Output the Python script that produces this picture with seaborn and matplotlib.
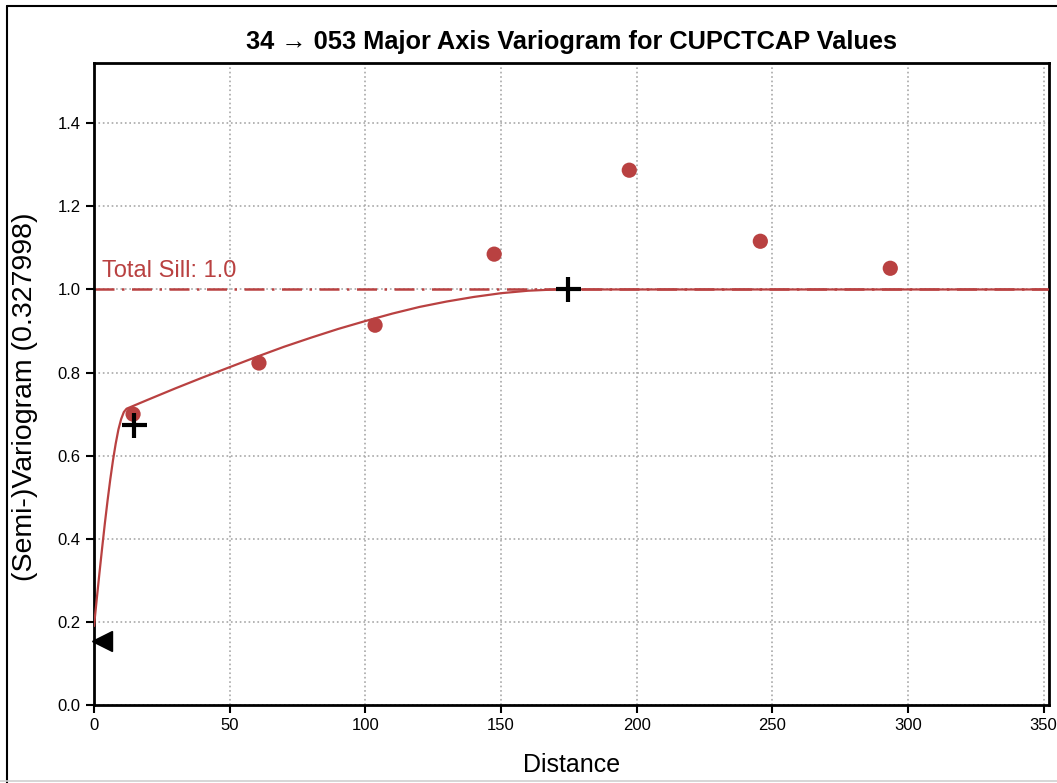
import matplotlib
matplotlib.use("Agg")
import matplotlib.pyplot as plt
from matplotlib.lines import Line2D
import seaborn as sns

# experimental variogram points
lag_dist = [14.4, 60.8, 103.6, 147.5, 197.3, 245.6, 293.5]
lag_gamma = [0.700, 0.823, 0.914, 1.085, 1.287, 1.116, 1.051]

# fitted model curve
model_dist = [0, 1, 2, 3, 4, 5, 6, 7, 8, 9, 10, 11, 12,
              20, 30, 40, 50, 60, 70, 80, 90, 100, 110, 120, 130, 140,
              150, 160, 170, 175, 352]
model_gamma = [0.190, 0.254, 0.317, 0.378, 0.437, 0.492, 0.543, 0.589, 0.629,
               0.663, 0.688, 0.705, 0.713,
               0.735, 0.762, 0.788, 0.813, 0.838, 0.862, 0.884, 0.905, 0.924,
               0.942, 0.958, 0.971, 0.982, 0.991, 0.997, 1.000, 1.000, 1.000]

# structure range markers and nugget marker
range_dist = [14.7, 174.8]
range_gamma = [0.674, 1.0]
nugget_dist = [3.0]
nugget_gamma = [0.155]

total_sill = 1.0
title = "34 \u2192 053 Major Axis Variogram for CUPCTCAP Values"
red = "#b94141"

sns.set_style("white")
plt.rcParams["font.family"] = ["Liberation Sans", "DejaVu Sans"]
plt.rcParams["text.color"] = "black"
plt.rcParams["axes.labelcolor"] = "black"
plt.rcParams["xtick.color"] = "black"
plt.rcParams["ytick.color"] = "black"

fig = plt.figure(figsize=(10.57, 7.83), dpi=100)
ax = fig.add_axes([94 / 1057, 1 - 705 / 783, (1049 - 94) / 1057, (705 - 63) / 783])

ax.grid(True, linestyle=":", color="#a8a8a8", linewidth=1.2)
ax.set_axisbelow(True)

ax.axhline(total_sill, color=red, linewidth=1.8, linestyle=(0, (8, 3, 1, 3)), zorder=2)
sns.lineplot(x=model_dist, y=model_gamma, estimator=None, color=red, linewidth=1.6, ax=ax, zorder=3)
sns.scatterplot(x=lag_dist, y=lag_gamma, s=120, color=red, edgecolor="none", ax=ax, zorder=4)
ax.plot(range_dist, range_gamma, linestyle="none", marker="+", color="black",
        markersize=18, markeredgewidth=3, zorder=5)
ax.plot(nugget_dist, nugget_gamma, linestyle="none", marker="<", color="black",
        markersize=14, zorder=5, clip_on=False)

ax.text(3, total_sill + 0.018, "Total Sill: " + str(total_sill), color=red,
        fontsize=17, ha="left", va="bottom")

ax.set_xlim(0, 352)
ax.set_ylim(0, 1.545)
ax.set_xticks([0, 50, 100, 150, 200, 250, 300, 350])
ax.set_yticks([0.0, 0.2, 0.4, 0.6, 0.8, 1.0, 1.2, 1.4])
ax.tick_params(axis="both", direction="out", length=6, width=1.5, labelsize=12,
               bottom=True, left=True, colors="black")
for sp in ax.spines.values():
    sp.set_linewidth(2)
    sp.set_color("black")

ax.set_title(title, fontsize=18.3, fontweight="bold", pad=10, color="black")
ax.set_xlabel("Distance", fontsize=18, labelpad=14)
ax.set_ylabel("(Semi-)Variogram (0.327998)", fontsize=20.5)
ax.yaxis.set_label_coords(-0.059, 0.48)

# figure frame (left/top black, bottom grey)
fig.add_artist(Line2D([7 / 1057, 7 / 1057], [0, 1 - 6 / 783], color="black", linewidth=1.5,
                      transform=fig.transFigure))
fig.add_artist(Line2D([7 / 1057, 1], [1 - 6 / 783, 1 - 6 / 783], color="black", linewidth=1.5,
                      transform=fig.transFigure))
fig.add_artist(Line2D([0, 1], [2 / 783, 2 / 783], color="#d0d0d0", linewidth=1.2,
                      transform=fig.transFigure))

fig.savefig("out.png", dpi=100)
